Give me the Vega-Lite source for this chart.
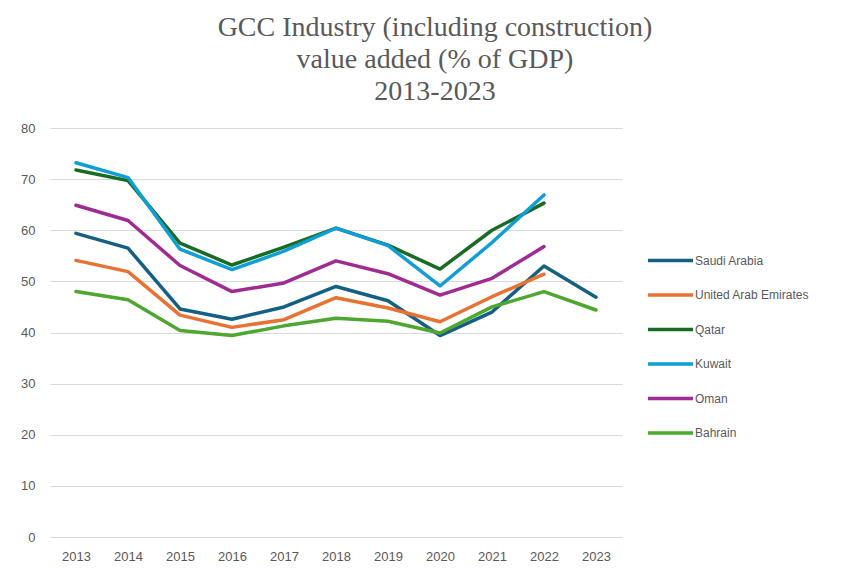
{
  "$schema": "https://vega.github.io/schema/vega-lite/v6.json",
  "autosize": {"type": "none"},
  "width": 572,
  "height": 409,
  "padding": {"left": 50, "top": 128, "right": 224, "bottom": 32},
  "background": "white",
  "title": {
    "text": ["GCC Industry (including construction)", "value added (% of GDP)", "2013-2023"],
    "font": "Liberation Serif",
    "fontSize": 28,
    "fontWeight": "normal",
    "color": "#595959",
    "lineHeight": 32,
    "anchor": "middle",
    "dx": 99,
    "offset": 16
  },
  "data": {
    "values": [
      {"country": "Saudi Arabia", "year": "2013", "value": 59.4},
      {"country": "Saudi Arabia", "year": "2014", "value": 56.5},
      {"country": "Saudi Arabia", "year": "2015", "value": 44.6},
      {"country": "Saudi Arabia", "year": "2016", "value": 42.6},
      {"country": "Saudi Arabia", "year": "2017", "value": 45.0},
      {"country": "Saudi Arabia", "year": "2018", "value": 49.0},
      {"country": "Saudi Arabia", "year": "2019", "value": 46.2},
      {"country": "Saudi Arabia", "year": "2020", "value": 39.4},
      {"country": "Saudi Arabia", "year": "2021", "value": 44.0},
      {"country": "Saudi Arabia", "year": "2022", "value": 53.0},
      {"country": "Saudi Arabia", "year": "2023", "value": 46.9},
      {"country": "United Arab Emirates", "year": "2013", "value": 54.1},
      {"country": "United Arab Emirates", "year": "2014", "value": 51.9},
      {"country": "United Arab Emirates", "year": "2015", "value": 43.4},
      {"country": "United Arab Emirates", "year": "2016", "value": 41.0},
      {"country": "United Arab Emirates", "year": "2017", "value": 42.5},
      {"country": "United Arab Emirates", "year": "2018", "value": 46.8},
      {"country": "United Arab Emirates", "year": "2019", "value": 44.8},
      {"country": "United Arab Emirates", "year": "2020", "value": 42.1},
      {"country": "United Arab Emirates", "year": "2021", "value": 47.0},
      {"country": "United Arab Emirates", "year": "2022", "value": 51.4},
      {"country": "Qatar", "year": "2013", "value": 71.8},
      {"country": "Qatar", "year": "2014", "value": 69.7},
      {"country": "Qatar", "year": "2015", "value": 57.5},
      {"country": "Qatar", "year": "2016", "value": 53.2},
      {"country": "Qatar", "year": "2017", "value": 56.7},
      {"country": "Qatar", "year": "2018", "value": 60.4},
      {"country": "Qatar", "year": "2019", "value": 57.1},
      {"country": "Qatar", "year": "2020", "value": 52.4},
      {"country": "Qatar", "year": "2021", "value": 60.0},
      {"country": "Qatar", "year": "2022", "value": 65.3},
      {"country": "Kuwait", "year": "2013", "value": 73.2},
      {"country": "Kuwait", "year": "2014", "value": 70.3},
      {"country": "Kuwait", "year": "2015", "value": 56.3},
      {"country": "Kuwait", "year": "2016", "value": 52.3},
      {"country": "Kuwait", "year": "2017", "value": 55.9},
      {"country": "Kuwait", "year": "2018", "value": 60.4},
      {"country": "Kuwait", "year": "2019", "value": 57.0},
      {"country": "Kuwait", "year": "2020", "value": 49.1},
      {"country": "Kuwait", "year": "2021", "value": 57.6},
      {"country": "Kuwait", "year": "2022", "value": 66.9},
      {"country": "Oman", "year": "2013", "value": 64.9},
      {"country": "Oman", "year": "2014", "value": 61.9},
      {"country": "Oman", "year": "2015", "value": 53.1},
      {"country": "Oman", "year": "2016", "value": 48.0},
      {"country": "Oman", "year": "2017", "value": 49.7},
      {"country": "Oman", "year": "2018", "value": 54.0},
      {"country": "Oman", "year": "2019", "value": 51.5},
      {"country": "Oman", "year": "2020", "value": 47.3},
      {"country": "Oman", "year": "2021", "value": 50.6},
      {"country": "Oman", "year": "2022", "value": 56.8},
      {"country": "Bahrain", "year": "2013", "value": 48.0},
      {"country": "Bahrain", "year": "2014", "value": 46.4},
      {"country": "Bahrain", "year": "2015", "value": 40.4},
      {"country": "Bahrain", "year": "2016", "value": 39.4},
      {"country": "Bahrain", "year": "2017", "value": 41.3},
      {"country": "Bahrain", "year": "2018", "value": 42.8},
      {"country": "Bahrain", "year": "2019", "value": 42.2},
      {"country": "Bahrain", "year": "2020", "value": 39.9},
      {"country": "Bahrain", "year": "2021", "value": 45.0},
      {"country": "Bahrain", "year": "2022", "value": 48.0},
      {"country": "Bahrain", "year": "2023", "value": 44.4}
    ]
  },
  "mark": {"type": "line", "strokeWidth": 3.5, "strokeCap": "round", "strokeJoin": "round"},
  "encoding": {
    "x": {
      "field": "year",
      "type": "ordinal",
      "scale": {"type": "point", "padding": 0.5},
      "axis": {
        "title": null,
        "labelAngle": 0,
        "ticks": false,
        "domain": false,
        "labelFont": "Liberation Sans",
        "labelFontSize": 13,
        "labelColor": "#595959",
        "labelPadding": 13
      }
    },
    "y": {
      "field": "value",
      "type": "quantitative",
      "scale": {"domain": [0, 80], "nice": false},
      "axis": {
        "title": null,
        "values": [0, 10, 20, 30, 40, 50, 60, 70, 80],
        "ticks": false,
        "domain": false,
        "grid": true,
        "gridColor": "#d9d9d9",
        "gridWidth": 1,
        "labelFont": "Liberation Sans",
        "labelFontSize": 13,
        "labelColor": "#595959",
        "labelPadding": 15
      }
    },
    "color": {
      "field": "country",
      "type": "nominal",
      "sort": ["Saudi Arabia", "United Arab Emirates", "Qatar", "Kuwait", "Oman", "Bahrain"],
      "scale": {
        "domain": ["Saudi Arabia", "United Arab Emirates", "Qatar", "Kuwait", "Oman", "Bahrain"],
        "range": ["#156082", "#E97132", "#196B24", "#0F9ED5", "#A02B93", "#4EA72E"]
      },
      "legend": {
        "title": null,
        "orient": "none",
        "legendX": 596,
        "legendY": 108,
        "symbolType": "stroke",
        "symbolSize": 2025,
        "symbolStrokeWidth": 3.5,
        "rowPadding": 2.5,
        "labelOffset": 0,
        "labelFont": "Liberation Sans",
        "labelFontSize": 12,
        "labelColor": "#595959"
      }
    }
  },
  "config": {"view": {"stroke": null}}
}
